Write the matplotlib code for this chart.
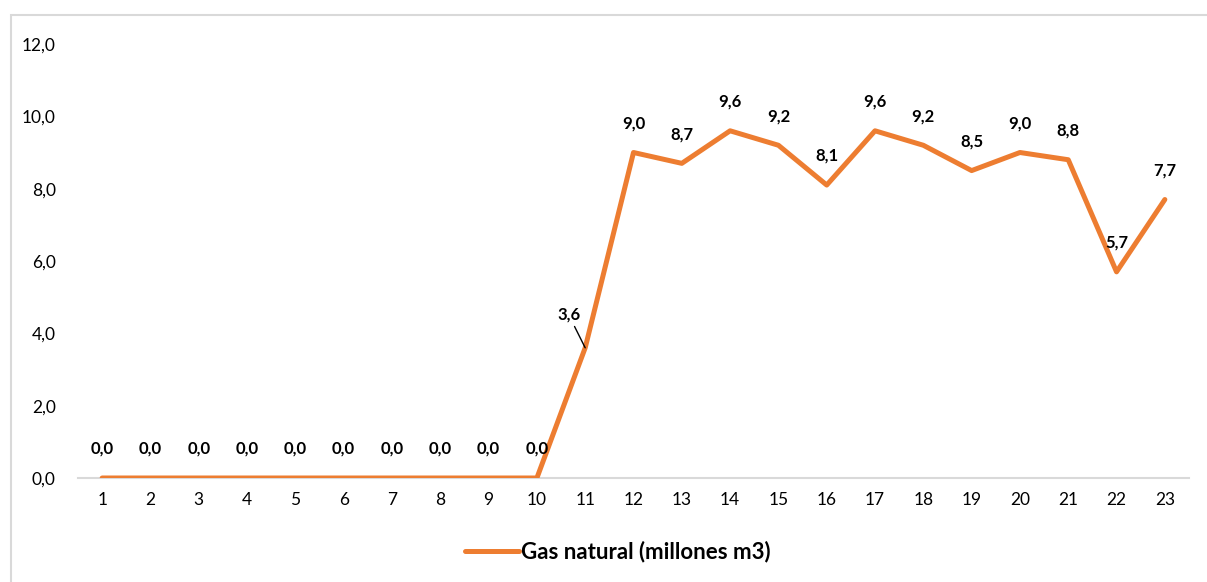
import matplotlib
matplotlib.use("Agg")
import matplotlib.pyplot as plt
from matplotlib.patches import Rectangle

categories = [str(i) for i in range(1, 24)]
values = [0.0, 0.0, 0.0, 0.0, 0.0, 0.0, 0.0, 0.0, 0.0, 0.0,
          3.6, 9.0, 8.7, 9.6, 9.2, 8.1, 9.6, 9.2, 8.5, 9.0, 8.8, 5.7, 7.7]
series_name = "Gas natural (millones m3)"
yticks = [0, 2, 4, 6, 8, 10, 12]

plt.rcParams['font.family'] = ['Lato', 'DejaVu Sans']

fig = plt.figure(figsize=(12.07, 5.82), dpi=100)
# outer chart frame
fig.patches.append(Rectangle((11/1207, -0.1), 1.2, 1 - 15/582 + 0.1, transform=fig.transFigure,
                             fill=False, edgecolor='#d9d9d9', lw=1.5))
ax = fig.add_axes([78/1207, 1 - 478/582, (1189 - 78)/1207, (478 - 44)/582])

x = list(range(1, len(values) + 1))
color = '#ED7D31'
line, = ax.plot(x, values, color=color, lw=3.6, solid_joinstyle='round', solid_capstyle='round',
                label=series_name)

ax.set_xlim(0.5, len(values) + 0.5)
ax.set_ylim(0, 12)
ax.set_yticks(yticks)
ax.set_yticklabels([f"{v:.1f}".replace('.', ',') for v in yticks], fontsize=12.5)
ax.set_xticks(x)
ax.set_xticklabels(categories, fontsize=12.5)
ax.tick_params(length=0, pad=10)
ax.tick_params(axis='y', pad=16)
for s in ['top', 'right', 'left']:
    ax.spines[s].set_visible(False)
ax.spines['bottom'].set_color('#d9d9d9')
ax.spines['bottom'].set_linewidth(1.5)
ax.spines['bottom'].set_zorder(0)

for xi, v in zip(x, values):
    txt = f"{v:.1f}".replace('.', ',')
    if xi == 11:
        ax.annotate(txt, xy=(xi, v), xytext=(-12, 24), textcoords='offset points',
                    ha='center', va='center', fontsize=12, fontweight='bold',
                    arrowprops=dict(arrowstyle='-', color='black', lw=1,
                                    shrinkA=1, shrinkB=0))
    else:
        ax.annotate(txt, xy=(xi, v), xytext=(0, 21), textcoords='offset points',
                    ha='center', va='center', fontsize=12, fontweight='bold')

leg = fig.legend(handles=[line], loc='center', bbox_to_anchor=(0.512, 1 - 552/582),
                 frameon=False, prop={'size': 16, 'weight': 'bold'},
                 handlelength=2.4, handletextpad=0.1)

fig.savefig('out.png', dpi=100)
